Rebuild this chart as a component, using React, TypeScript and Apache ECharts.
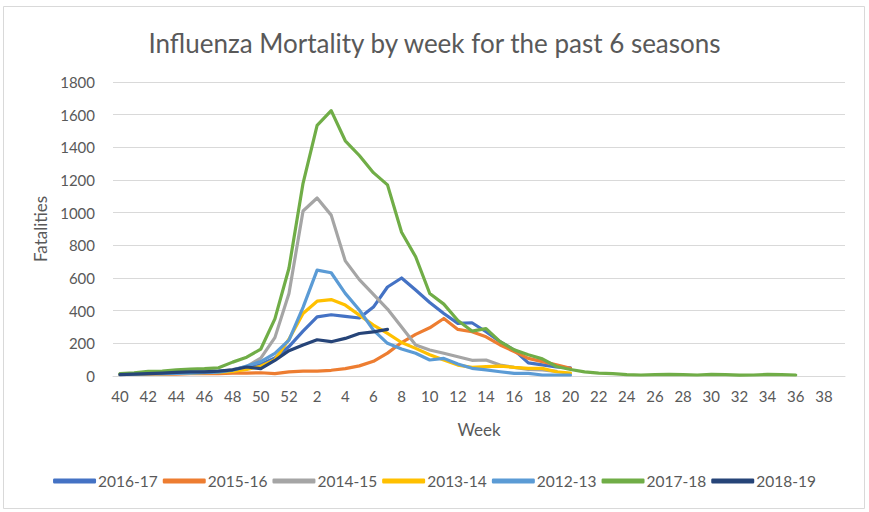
import { useEffect, useRef } from "react";
import * as echarts from "echarts";

// weeks 40..52 then 1..39
const weeks: string[] = [
  "40", "41", "42", "43", "44", "45", "46", "47", "48", "49", "50", "51", "52",
  "1", "2", "3", "4", "5", "6", "7", "8", "9", "10", "11", "12", "13", "14",
  "15", "16", "17", "18", "19", "20", "21", "22", "23", "24", "25", "26", "27",
  "28", "29", "30", "31", "32", "33", "34", "35", "36", "37", "38", "39",
];

const s2016_17 = [
  12, 14, 15, 18, 20, 22, 25, 28, 35, 45, 70, 110, 180,
  275, 362, 375, 365, 355, 422, 545, 600, 526, 450, 383, 322, 326, 271,
  210, 159, 80, 68, 55, 50,
];
const s2015_16 = [
  10, 10, 12, 12, 12, 15, 15, 15, 18, 18, 20, 15, 25,
  30, 30, 35, 45, 62, 90, 140, 205, 255, 295, 352, 285, 271, 240,
  190, 150, 108, 88, 68, 47,
];
const s2014_15 = [
  10, 12, 14, 15, 18, 20, 22, 25, 40, 57, 110, 235, 505,
  1010, 1090, 985, 705, 590, 500, 410, 300, 190, 159, 139, 118, 96, 98,
  67, 53, 41, 37, 28,
];
const s2013_14 = [
  10, 12, 14, 15, 16, 18, 20, 22, 28, 40, 60, 100, 225,
  383, 458, 468, 434, 373, 312, 261, 205, 169, 130, 98, 67, 53, 57,
  61, 53, 47, 47, 26, 18,
];
const s2012_13 = [
  10, 12, 14, 15, 16, 18, 20, 24, 35, 61, 88, 139, 220,
  420, 648, 632, 506, 404, 281, 200, 165, 139, 98, 108, 73, 47, 37,
  26, 16, 16, 6, 6, 6,
];
const s2017_18 = [
  15, 20, 28, 30, 38, 42, 45, 50, 85, 115, 165, 350, 660,
  1180, 1535, 1625, 1440, 1350, 1245, 1170, 880, 730, 505, 440, 340, 275, 290,
  210, 160, 130, 105, 58, 40, 25, 18, 15, 8, 6, 8, 10,
  8, 6, 10, 8, 5, 6, 10, 8, 6,
];
const s2018_19 = [
  8, 12, 15, 18, 22, 25, 25, 30, 38, 55, 45, 95, 155,
  190, 222, 210, 230, 260, 270, 285,
];

const seasons = ["2016-17", "2015-16", "2014-15", "2013-14", "2012-13", "2017-18", "2018-19"];
const seasonValues = [s2016_17, s2015_16, s2014_15, s2013_14, s2012_13, s2017_18, s2018_19];
const seasonColors = ["#4472C4", "#ED7D31", "#A5A5A5", "#FFC000", "#5B9BD5", "#70AD47", "#264478"];

const FONT = "Lato";
const TEXT = "#595959";

export default function App() {
  const ref = useRef<HTMLDivElement>(null);

  useEffect(() => {
    document.body.style.margin = "0";
    if (!ref.current) return;
    const chart = echarts.init(ref.current, null, { renderer: "svg" });

    chart.setOption({
      animation: false,
      backgroundColor: "#ffffff",
      textStyle: { fontFamily: FONT },
      title: {
        text: "Influenza Mortality by week for the past 6 seasons",
        left: "center",
        top: 25,
        textStyle: { fontFamily: FONT, fontSize: 26, fontWeight: "normal", color: TEXT },
      },
      graphic: [
        {
          type: "rect",
          shape: { x: 3.5, y: 6.5, width: 861, height: 502 },
          style: { fill: "none", stroke: "#d9d9d9", lineWidth: 1 },
          silent: true,
        },
      ],
      legend: {
        bottom: 18,
        left: "center",
        icon: "roundRect",
        itemWidth: 43,
        itemHeight: 5,
        itemGap: 5,
        textStyle: { fontFamily: FONT, fontSize: 15.5, color: TEXT, padding: [0, 0, 0, -3] },
        data: seasons,
      },
      grid: { left: 113, right: 24, top: 82, bottom: 136 },
      xAxis: {
        type: "category",
        data: weeks,
        boundaryGap: true,
        name: "Week",
        nameLocation: "middle",
        nameGap: 45,
        nameTextStyle: { fontFamily: FONT, fontSize: 17, color: TEXT },
        axisLine: { lineStyle: { color: "#d9d9d9", width: 1 } },
        axisTick: { show: false },
        axisLabel: { interval: 1, fontFamily: FONT, fontSize: 15, color: TEXT, margin: 12 },
      },
      yAxis: {
        type: "value",
        min: 0,
        max: 1800,
        interval: 200,
        name: "Fatalities",
        nameLocation: "middle",
        nameGap: 63,
        nameTextStyle: { fontFamily: FONT, fontSize: 17, color: TEXT },
        axisLine: { show: false },
        axisTick: { show: false },
        axisLabel: {
          fontFamily: FONT,
          fontSize: 15,
          color: TEXT,
          margin: 18,
          formatter: (v: number) => String(v),
        },
        splitLine: { lineStyle: { color: "#d9d9d9", width: 1 } },
      },
      series: seasons.map((name, i) => ({
        name,
        type: "line",
        data: seasonValues[i],
        symbol: "none",
        smooth: false,
        color: seasonColors[i],
        lineStyle: { width: 3.2, color: seasonColors[i], cap: "round", join: "round" },
      })),
    });

    return () => {
      chart.dispose();
    };
  }, []);

  return <div ref={ref} style={{ width: "869px", height: "512px" }} />;
}
